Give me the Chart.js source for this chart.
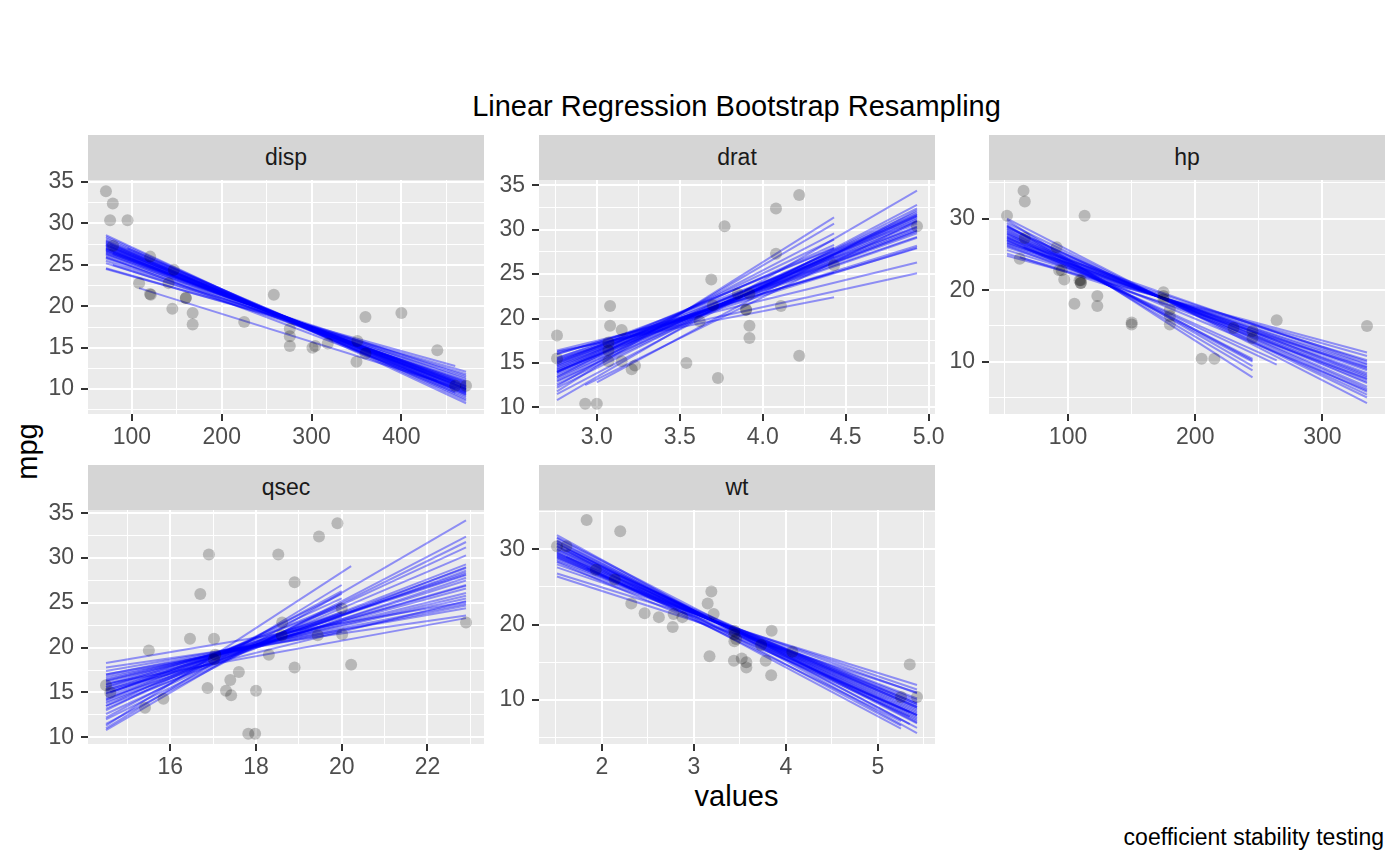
<!DOCTYPE html>
<html>
<head>
<meta charset="utf-8">
<script src="https://cdn.jsdelivr.net/npm/chart.js@4"></script>
<style>
  body { margin: 0; background: #fff; width: 1400px; height: 865px; position: relative; overflow: hidden;
         font-family: "Liberation Sans", Arial, Helvetica, sans-serif; }
  .txt { position: absolute; white-space: nowrap; color: #000; }
  .strip { position: absolute; background: #D5D5D5; color: #1A1A1A; font-size: 23px;
           text-align: center; height: 45px; line-height: 45px; }
  canvas { position: absolute; }
</style>
</head>
<body>
<div class="txt" style="left:0;width:1473px;top:92px;font-size:29px;line-height:29px;text-align:center">Linear Regression Bootstrap Resampling</div>
<div class="txt" style="left:0;width:1473px;top:782px;font-size:29px;line-height:29px;text-align:center">values</div>
<div class="txt" style="left:-3px;top:437px;width:60px;font-size:29px;line-height:29px;text-align:center;transform:rotate(-90deg)">mpg</div>
<div class="txt" style="right:16px;top:826px;font-size:23px;line-height:23px">coefficient stability testing</div>
<div id="panels"></div>

<script>
// mtcars
const mpg  = [21.0,21.0,22.8,21.4,18.7,18.1,14.3,24.4,22.8,19.2,17.8,16.4,17.3,15.2,10.4,10.4,14.7,32.4,30.4,33.9,21.5,15.5,15.2,13.3,19.2,27.3,26.0,30.4,15.8,19.7,15.0,21.4];
const disp = [160,160,108,258,360,225,360,146.7,140.8,167.6,167.6,275.8,275.8,275.8,472,460,440,78.7,75.7,71.1,120.1,318,304,350,400,79,120.3,95.1,351,145,301,121];
const drat = [3.90,3.90,3.85,3.08,3.15,2.76,3.21,3.69,3.92,3.92,3.92,3.07,3.07,3.07,2.93,3.00,3.23,4.08,4.93,4.22,3.70,2.76,3.15,3.73,3.08,4.08,4.43,3.77,4.22,3.62,3.54,4.11];
const hp   = [110,110,93,110,175,105,245,62,95,123,123,180,180,180,205,215,230,66,52,65,97,150,150,245,175,66,91,113,264,175,335,109];
const qsec = [16.46,17.02,18.61,19.44,17.02,20.22,15.84,20.00,22.90,18.30,18.90,17.40,17.60,18.00,17.98,17.82,17.42,19.47,18.52,19.90,20.01,16.87,17.30,15.41,17.05,18.90,16.70,16.90,14.50,15.50,14.60,18.60];
const wt   = [2.620,2.875,2.320,3.215,3.440,3.460,3.570,3.190,3.150,3.440,3.440,4.070,3.730,3.780,5.250,5.424,5.345,2.200,1.615,1.835,2.465,3.520,3.435,3.840,3.845,1.935,2.140,1.513,3.170,2.770,3.570,2.780];

// bootstrap fits: [x start, mpg start, x end, mpg end]
const dispLines = [
  [71.1,28.6,472,8.3],[71.1,28.2,472,8.8],[71.1,27.9,472,9.2],[71.1,27.6,472,9.5],[71.1,27.4,472,9.8],
  [71.1,27.2,472,10.0],[71.1,27.0,472,10.2],[71.1,26.8,472,10.4],[71.1,26.6,472,10.6],[71.1,26.4,472,10.9],
  [71.1,26.2,472,11.2],[71.1,26.0,472,9.6],[71.1,25.8,472,10.8],[71.1,25.5,472,11.4],[71.1,25.2,472,11.8],
  [71.1,24.6,472,12.1],[75.7,27.5,472,9.0],[75.7,26.9,472,10.0],[78.7,25.0,472,11.0],[78.7,26.3,460,10.8],
  [71.1,27.8,460,9.6],[71.1,24.5,460,12.8],[108,22.2,472,9.9],[95.1,27.0,472,9.3],[71.1,28.0,440,11.0],
  [71.1,27.5,472,9.9],[71.1,27.3,472,10.1],[71.1,27.1,472,10.3],[71.1,26.9,472,10.0],[71.1,26.7,472,10.5],
  [71.1,27.7,472,9.7],[71.1,26.5,472,10.7],[71.1,27.0,472,9.4],[71.1,26.3,472,10.2],[75.7,27.2,472,9.6],
  [71.1,28.4,472,8.6],[71.1,25.9,472,11.6],[78.7,26.5,472,10.4],[71.1,27.4,460,10.0],[71.1,26.8,460,11.0]
];
const dratLines = [
  [2.76,10.8,4.93,34.4],[2.76,11.5,4.93,32.8],[2.76,12.2,4.93,32.4],[2.76,12.6,4.93,31.8],[2.76,13.0,4.93,31.5],
  [2.76,13.4,4.93,31.2],[2.76,13.8,4.93,30.9],[2.76,14.2,4.93,30.4],[2.76,14.6,4.93,30.0],[2.76,15.0,4.93,29.6],
  [2.76,15.3,4.93,29.2],[2.76,15.6,4.93,28.2],[2.76,16.0,4.93,27.9],[2.76,16.4,4.93,26.3],[2.76,16.2,4.93,25.1],
  [2.76,14.0,4.93,31.5],[2.76,13.2,4.93,32.0],[2.76,11.8,4.43,31.4],[2.76,12.4,4.43,30.7],[2.76,14.0,4.43,28.9],
  [2.76,14.8,4.43,28.0],[2.76,15.5,4.43,27.0],[2.76,16.0,4.43,25.2],[2.76,16.3,4.43,22.4],[2.93,12.5,4.93,31.0],
  [3.00,12.8,4.93,32.2],[2.76,13.6,4.93,31.3],[2.76,14.0,4.93,30.7],[2.76,14.4,4.93,30.2],[2.76,14.8,4.93,29.8],
  [2.76,15.2,4.93,30.3],[2.76,13.9,4.93,31.7],[2.76,14.6,4.93,31.0],[2.76,15.1,4.93,29.1],[2.76,13.4,4.43,29.6],
  [2.76,14.3,4.43,28.3],[2.76,15.0,4.43,27.9],[2.76,12.9,4.93,31.6],[2.76,15.4,4.93,28.0],[2.76,14.1,4.93,29.9]
];
const hpLines = [
  [52,30.0,335,4.2],[52,29.4,335,5.0],[52,28.8,335,5.8],[52,28.3,335,6.5],[52,27.8,335,7.2],
  [52,27.3,335,7.8],[52,26.9,335,8.4],[52,26.5,335,9.0],[52,26.0,335,9.6],[52,25.6,335,10.2],
  [52,25.1,335,10.8],[52,24.8,335,11.3],[52,27.6,335,8.0],[52,26.2,335,7.6],[52,29.8,245,7.8],
  [52,29.0,245,8.8],[52,28.5,245,10.2],[52,27.9,245,10.4],[52,27.0,264,10.2],[62,24.6,335,9.2],
  [65,26.0,335,6.0],[52,28.0,335,7.0],[52,27.5,335,7.5],[52,27.0,335,8.2],[52,26.7,335,8.8],
  [52,26.3,335,9.3],[52,28.6,335,6.2],[52,27.2,335,9.7],[52,29.1,245,9.4],[52,28.2,245,10.0],
  [52,27.4,264,9.6],[52,26.6,335,10.0],[52,28.9,335,5.4]
];
const qsecLines = [
  [14.5,10.8,22.9,34.2],[14.5,11.5,22.9,32.4],[14.5,12.0,22.9,31.8],[14.5,12.6,22.9,31.2],[14.5,13.2,22.9,30.3],
  [14.5,13.8,22.9,29.3],[14.5,14.2,22.9,28.9],[14.5,14.6,22.9,28.4],[14.5,15.0,22.9,28.1],[14.5,15.4,22.9,27.0],
  [14.5,15.8,22.9,26.6],[14.5,16.2,22.9,26.1],[14.5,16.6,22.9,25.5],[14.5,17.0,22.9,24.9],[14.5,17.4,22.9,24.4],
  [14.5,17.8,22.9,23.6],[14.5,16.0,22.9,23.3],[14.5,18.3,22.9,25.1],[14.5,11.3,20.22,29.1],[14.5,11.0,20.0,27.0],
  [14.5,12.2,20.0,26.3],[14.5,13.5,20.0,25.5],[14.5,14.8,20.0,24.6],[14.5,15.6,20.0,23.8],[14.5,16.4,20.0,22.8],
  [14.5,17.0,20.0,21.8],[14.6,15.0,20.0,24.0],[14.5,14.0,22.9,28.6],[14.5,14.9,22.9,27.5],[14.5,15.6,22.9,26.9],
  [14.5,15.2,22.9,28.2],[14.5,16.3,22.9,25.8],[14.5,13.5,22.9,29.0],[14.5,16.8,22.9,24.7],[14.5,14.4,22.9,27.8],
  [14.5,15.9,20.0,23.4],[14.5,14.2,20.0,24.9],[14.5,15.3,22.9,25.2],[14.5,13.0,20.0,26.0]
];
const wtLines = [
  [1.513,31.9,5.424,5.6],[1.513,31.5,5.424,6.3],[1.513,31.1,5.424,6.9],[1.513,30.7,5.424,7.4],[1.513,30.3,5.424,7.8],
  [1.513,30.0,5.424,8.2],[1.513,29.7,5.424,8.6],[1.513,29.4,5.424,9.0],[1.513,29.1,5.424,9.3],[1.513,28.8,5.424,9.7],
  [1.513,28.4,5.424,10.2],[1.513,28.0,5.424,10.9],[1.513,27.6,5.424,11.4],[1.513,26.8,5.424,12.0],[1.513,26.4,5.424,11.0],
  [1.513,30.5,5.25,6.2],[1.513,29.6,5.25,7.2],[1.513,31.2,5.345,6.8],[1.513,28.3,5.345,8.4],[1.615,30.0,5.424,7.6],
  [1.615,29.0,5.424,9.5],[1.835,27.5,5.424,8.0],[1.513,30.4,5.424,8.0],[1.513,29.9,5.424,8.4],[1.513,29.5,5.424,8.8],
  [1.513,29.2,5.424,9.1],[1.513,28.9,5.424,9.5],[1.513,30.8,5.424,7.2],[1.513,29.0,5.424,8.0],[1.513,30.1,5.424,9.0],
  [1.513,28.6,5.424,10.0],[1.513,30.9,5.25,6.6],[1.513,29.3,5.345,7.8],[1.513,31.6,5.424,7.0]
];

// tick labels (major) and minor grid positions
const mpgTicksA = [10,15,20,25,30,35],  mpgMinorA = [7.5,12.5,17.5,22.5,27.5,32.5];
const mpgTicksB = [10,20,30],           mpgMinorB = [5,15,25,35];
const dispTicks = [100,200,300,400],    dispMinor = [50,150,250,350,450];
const dratTicks = [3.0,3.5,4.0,4.5,5.0], dratMinor = [2.75,3.25,3.75,4.25,4.75];
const hpTicks   = [100,200,300],        hpMinor   = [50,150,250];
const qsecTicks = [16,18,20,22],        qsecMinor = [15,17,19,21,23];
const wtTicks   = [2,3,4,5],            wtMinor   = [1.5,2.5,3.5,4.5,5.5];

const panels = [
  { name: "disp", x: disp, lines: dispLines, xr: [51.1, 492.0], yr: [7.0, 35.25],
    xt: dispTicks, xm: dispMinor, yt: mpgTicksA, ym: mpgMinorA, left: 88,  top: 180, fmt: v => String(v) },
  { name: "drat", x: drat, lines: dratLines, xr: [2.6515, 5.0385], yr: [9.25, 35.6],
    xt: dratTicks, xm: dratMinor, yt: mpgTicksA, ym: mpgMinorA, left: 539, top: 180, fmt: v => v.toFixed(1) },
  { name: "hp", x: hp, lines: hpLines, xr: [37.85, 349.15], yr: [2.69, 35.41],
    xt: hpTicks, xm: hpMinor, yt: mpgTicksB, ym: mpgMinorB, left: 989, top: 180, fmt: v => String(v) },
  { name: "qsec", x: qsec, lines: qsecLines, xr: [14.08, 23.32], yr: [9.25, 35.37],
    xt: qsecTicks, xm: qsecMinor, yt: mpgTicksA, ym: mpgMinorA, left: 88,  top: 510, fmt: v => String(v) },
  { name: "wt", x: wt, lines: wtLines, xr: [1.3175, 5.6196], yr: [4.16, 35.22],
    xt: wtTicks, xm: wtMinor, yt: mpgTicksB, ym: mpgMinorB, left: 539, top: 510, fmt: v => String(v) }
];

const PW = 396, PH = 234, AXW = 80, AXH = 50, PADT = 28, PADR = 24;
const FONT = '"Liberation Sans", Arial, Helvetica, sans-serif';

const panelBg = {
  id: "panelBg",
  beforeDraw(chart) {
    const { ctx, chartArea: a } = chart;
    ctx.save();
    ctx.fillStyle = "#EBEBEB";
    ctx.fillRect(a.left, a.top, a.right - a.left, a.bottom - a.top);
    ctx.restore();
  }
};

function axis(range, major, minor, fmt, isX) {
  const isMajor = v => major.some(m => Math.abs(m - v) < 1e-9);
  const all = major.concat(minor).filter(v => v >= range[0] && v <= range[1]).sort((a, b) => a - b);
  return {
    type: "linear",
    position: isX ? "bottom" : "left",
    min: range[0],
    max: range[1],
    afterBuildTicks: s => { s.ticks = all.map(v => ({ value: v })); },
    afterFit: s => { if (isX) s.height = AXH; else s.width = AXW; },
    border: { display: false },
    grid: {
      color: "#FFFFFF",
      lineWidth: c => (c.tick && isMajor(c.tick.value)) ? 2 : 1,
      tickColor: c => (c.tick && isMajor(c.tick.value)) ? "#333333" : "rgba(0,0,0,0)",
      tickWidth: 2,
      tickLength: 7,
      drawTicks: true
    },
    ticks: {
      autoSkip: false,
      maxRotation: 0,
      padding: isX ? 3 : 7,
      color: "#4D4D4D",
      font: { family: FONT, size: 23 },
      callback: v => isMajor(v) ? fmt(v) : ""
    }
  };
}

function buildPanel(p) {
  const host = document.getElementById("panels");

  const strip = document.createElement("div");
  strip.className = "strip";
  strip.style.left = p.left + "px";
  strip.style.top = (p.top - 45) + "px";
  strip.style.width = PW + "px";
  strip.textContent = p.name;
  host.appendChild(strip);

  const cv = document.createElement("canvas");
  cv.width = PW + AXW + PADR;
  cv.height = PH + AXH + PADT;
  cv.style.left = (p.left - AXW) + "px";
  cv.style.top = (p.top - PADT) + "px";
  host.appendChild(cv);

  const datasets = [{
    data: p.x.map((v, i) => ({ x: v, y: mpg[i] })),
    backgroundColor: "rgba(0,0,0,0.22)",
    borderWidth: 0,
    pointRadius: 6,
    order: 0
  }];
  for (const l of p.lines) {
    datasets.push({
      data: [{ x: l[0], y: l[1] }, { x: l[2], y: l[3] }],
      showLine: true,
      borderColor: "rgba(0,0,255,0.4)",
      borderWidth: 2,
      pointRadius: 0,
      order: 1
    });
  }

  new Chart(cv.getContext("2d"), {
    type: "scatter",
    data: { datasets },
    options: {
      responsive: false,
      animation: false,
      events: [],
      layout: { padding: { left: 0, top: PADT, right: PADR, bottom: 0 } },
      plugins: { legend: { display: false }, tooltip: { enabled: false } },
      scales: {
        x: axis(p.xr, p.xt, p.xm, p.fmt, true),
        y: axis(p.yr, p.yt, p.ym, v => String(v), false)
      }
    },
    plugins: [panelBg]
  });
}

window.addEventListener("DOMContentLoaded", () => {
  for (const p of panels) buildPanel(p);
});
</script>
</body>
</html>
